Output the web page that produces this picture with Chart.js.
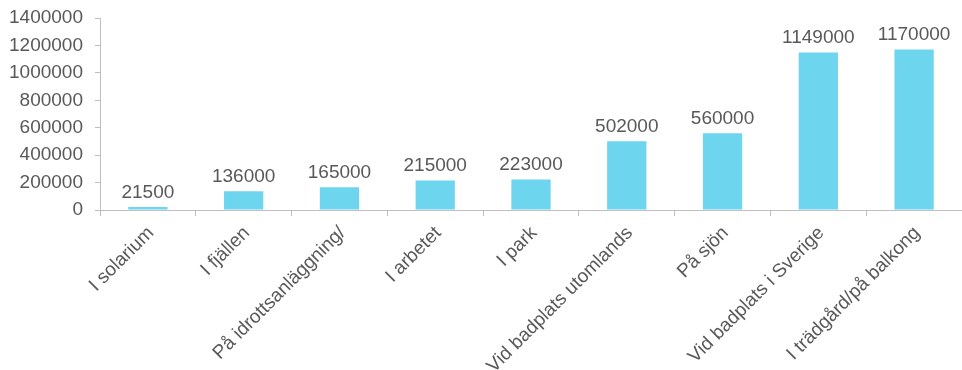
<!DOCTYPE html>
<html>
<head>
<meta charset="utf-8">
<script src="https://cdn.jsdelivr.net/npm/chart.js@4"></script>
<style>
  html, body { margin: 0; padding: 0; background: #fff; }
  #wrap { width: 962px; height: 370px; }
</style>
</head>
<body>
<div id="wrap"><canvas id="chart"></canvas></div>
<script>
const categories = ['I solarium', 'I fjällen', 'På idrottsanläggning/', 'I arbetet', 'I park',
    'Vid badplats utomlands', 'På sjön', 'Vid badplats i Sverige', 'I trädgård/på balkong'];
const values = [21500, 136000, 165000, 215000, 223000, 502000, 560000, 1149000, 1170000];
const yTicks = [0, 200000, 400000, 600000, 800000, 1000000, 1200000, 1400000];

const textColor = '#595959';
const axisColor = '#bfbfbf';
const font = { family: 'Liberation Sans, Arial, sans-serif', size: 19 };

// value labels above each bar
const barLabels = {
    id: 'barLabels',
    afterDatasetsDraw(chart) {
        const ctx = chart.ctx;
        const meta = chart.getDatasetMeta(0);
        ctx.save();
        ctx.fillStyle = textColor;
        ctx.font = font.size + 'px ' + font.family;
        ctx.textAlign = 'center';
        ctx.textBaseline = 'bottom';
        meta.data.forEach((bar, i) => {
            ctx.fillText(String(values[i]), bar.x, bar.y - 5);
        });
        ctx.restore();
    }
};

new Chart(document.getElementById('chart'), {
    type: 'bar',
    data: {
        labels: categories,
        datasets: [{
            data: values,
            backgroundColor: '#6dd5ed',
            barPercentage: 0.41,
            categoryPercentage: 1
        }]
    },
    options: {
        responsive: true,
        maintainAspectRatio: false,
        animation: false,
        layout: { padding: { top: 18, right: 0, left: 0, bottom: 0 } },
        plugins: { legend: { display: false }, tooltip: { enabled: false } },
        scales: {
            x: {
                grid: { drawOnChartArea: false, drawTicks: true, tickLength: 6, color: axisColor },
                border: { color: axisColor },
                ticks: { color: textColor, font, minRotation: 45, maxRotation: 45, padding: 6, labelOffset: 3 },
                afterFit(scale) { scale.height = 160; }
            },
            y: {
                min: 0,
                max: 1400000,
                afterBuildTicks(scale) { scale.ticks = yTicks.map(v => ({ value: v })); },
                grid: { drawOnChartArea: false, drawTicks: true, tickLength: 5, color: axisColor },
                border: { color: axisColor },
                ticks: { color: textColor, font, padding: 12, callback: v => String(v) },
                afterFit(scale) {
                    scale.width = 100;
                    scale.paddingTop = 0;
                    scale.paddingBottom = 0;
                }
            }
        }
    },
    plugins: [barLabels]
});
</script>
</body>
</html>
